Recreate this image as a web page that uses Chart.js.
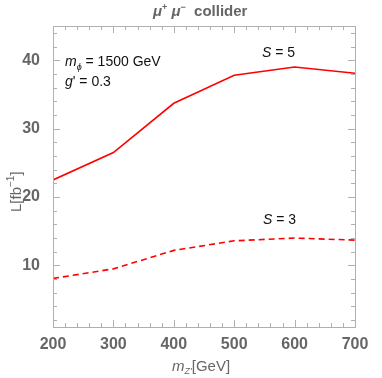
<!DOCTYPE html>
<html>
<head>
<meta charset="utf-8">
<script src="https://cdn.jsdelivr.net/npm/chart.js@4/dist/chart.umd.min.js"></script>
<style>
  html, body { margin: 0; padding: 0; background: #fff; }
  #wrap { width: 382px; height: 378px; }
</style>
</head>
<body>
<div id="wrap"><canvas id="c"></canvas></div>
<script>
// datos
const masas = [200, 300, 400, 500, 600, 700];
const lumS5 = [22.5, 26.5, 33.7, 37.8, 39.0, 38.1];
const lumS3 = [8.1, 9.5, 12.2, 13.6, 14.0, 13.7];
const ticksX = [200, 300, 400, 500, 600, 700];
const ticksY = [10, 20, 30, 40];

const gris = "#666";
const marco = "#b0b0b0";

// escribe trozos de texto seguidos: [texto, fuente, dy]
function trozos(ctx, x, y, partes) {
  let cx = x;
  for (const [t, f, dy] of partes) {
    ctx.font = f;
    ctx.fillText(t, cx, y + (dy || 0));
    cx += ctx.measureText(t).width;
  }
}

// ticks hacia dentro en los cuatro lados + textos
const extras = {
  id: "extras",
  afterDraw(chart) {
    const { ctx, chartArea: a, scales: { x, y } } = chart;
    ctx.save();
    ctx.strokeStyle = marco;
    ctx.lineWidth = 1;
    ctx.strokeRect(a.left + 0.5, a.top + 0.5, a.right - a.left, a.bottom - a.top);
    ctx.beginPath();
    for (let v = 200; v <= 700; v += 20) {
      const px = Math.round(x.getPixelForValue(v)) + 0.5;
      const len = v % 100 === 0 ? 7 : 4;
      ctx.moveTo(px, a.bottom); ctx.lineTo(px, a.bottom - len);
      ctx.moveTo(px, a.top); ctx.lineTo(px, a.top + len);
    }
    for (let v = 2; v <= 44; v += 2) {
      const py = Math.round(y.getPixelForValue(v)) + 0.5;
      const len = v % 10 === 0 ? 7 : 4;
      ctx.moveTo(a.left, py); ctx.lineTo(a.left + len, py);
      ctx.moveTo(a.right, py); ctx.lineTo(a.right - len, py);
    }
    ctx.stroke();

    ctx.textBaseline = "alphabetic";
    ctx.textAlign = "left";

    // titulo
    ctx.fillStyle = gris;
    trozos(ctx, 153, 16, [
      ["μ", "italic bold 15px 'Liberation Sans'"],
      ["+", "bold 9px 'Liberation Sans'", -6],
      [" μ", "italic bold 15px 'Liberation Sans'"],
      ["−", "bold 9px 'Liberation Sans'", -6],
      ["  collider", "bold 15px 'Liberation Sans'"]
    ]);

    // eje y
    ctx.save();
    ctx.translate(21, 212);
    ctx.rotate(-Math.PI / 2);
    trozos(ctx, 0, 0, [
      ["L[fb", "15px 'Liberation Sans'"],
      ["−1", "10px 'Liberation Sans'", -7],
      ["]", "15px 'Liberation Sans'"]
    ]);
    ctx.restore();

    // eje x
    trozos(ctx, 172, 371, [
      ["m", "italic 15px 'Liberation Sans'"],
      ["Z'", "italic 9px 'Liberation Sans'", 3],
      ["[GeV]", "15px 'Liberation Sans'"]
    ]);

    // anotaciones
    ctx.fillStyle = "#111";
    trozos(ctx, 65, 66, [
      ["m", "italic 14px 'Liberation Sans'"],
      ["ϕ", "italic 9px 'Liberation Sans'", 4],
      [" = 1500 GeV", "14px 'Liberation Sans'"]
    ]);
    trozos(ctx, 65, 86, [
      ["g", "italic 14px 'Liberation Sans'"],
      ["' = 0.3", "14px 'Liberation Sans'"]
    ]);
    trozos(ctx, 262, 57, [
      ["S", "italic 14px 'Liberation Sans'"],
      [" = 5", "14px 'Liberation Sans'"]
    ]);
    trozos(ctx, 263, 224, [
      ["S", "italic 14px 'Liberation Sans'"],
      [" = 3", "14px 'Liberation Sans'"]
    ]);
    ctx.restore();
  }
};

new Chart(document.getElementById("c"), {
  type: "line",
  data: {
    datasets: [
      {
        label: "S = 5",
        data: masas.map((m, i) => ({ x: m, y: lumS5[i] })),
        borderColor: "#ff0000",
        borderWidth: 1.6,
        pointRadius: 0,
        tension: 0
      },
      {
        label: "S = 3",
        data: masas.map((m, i) => ({ x: m, y: lumS3[i] })),
        borderColor: "#ff0000",
        borderWidth: 1.6,
        borderDash: [6, 4],
        pointRadius: 0,
        tension: 0
      }
    ]
  },
  options: {
    responsive: true,
    maintainAspectRatio: false,
    animation: false,
    layout: { padding: { top: 26, right: 27, left: 0, bottom: 0 } },
    plugins: { legend: { display: false }, tooltip: { enabled: false } },
    scales: {
      x: {
        type: "linear",
        min: 200,
        max: 700,
        afterBuildTicks: s => { s.ticks = ticksX.map(v => ({ value: v })); },
        afterFit: s => { s.height = 51; },
        grid: { display: false },
        border: { display: false },
        ticks: { color: gris, font: { family: "Liberation Sans", size: 16, weight: "bold" }, padding: 0, maxRotation: 0 }
      },
      y: {
        min: 1,
        max: 45,
        afterBuildTicks: s => { s.ticks = ticksY.map(v => ({ value: v })); },
        afterFit: s => { s.width = 53; },
        grid: { display: false },
        border: { display: false },
        ticks: { color: gris, font: { family: "Liberation Sans", size: 16, weight: "bold" }, padding: 5 }
      }
    }
  },
  plugins: [extras]
});
</script>
</body>
</html>
